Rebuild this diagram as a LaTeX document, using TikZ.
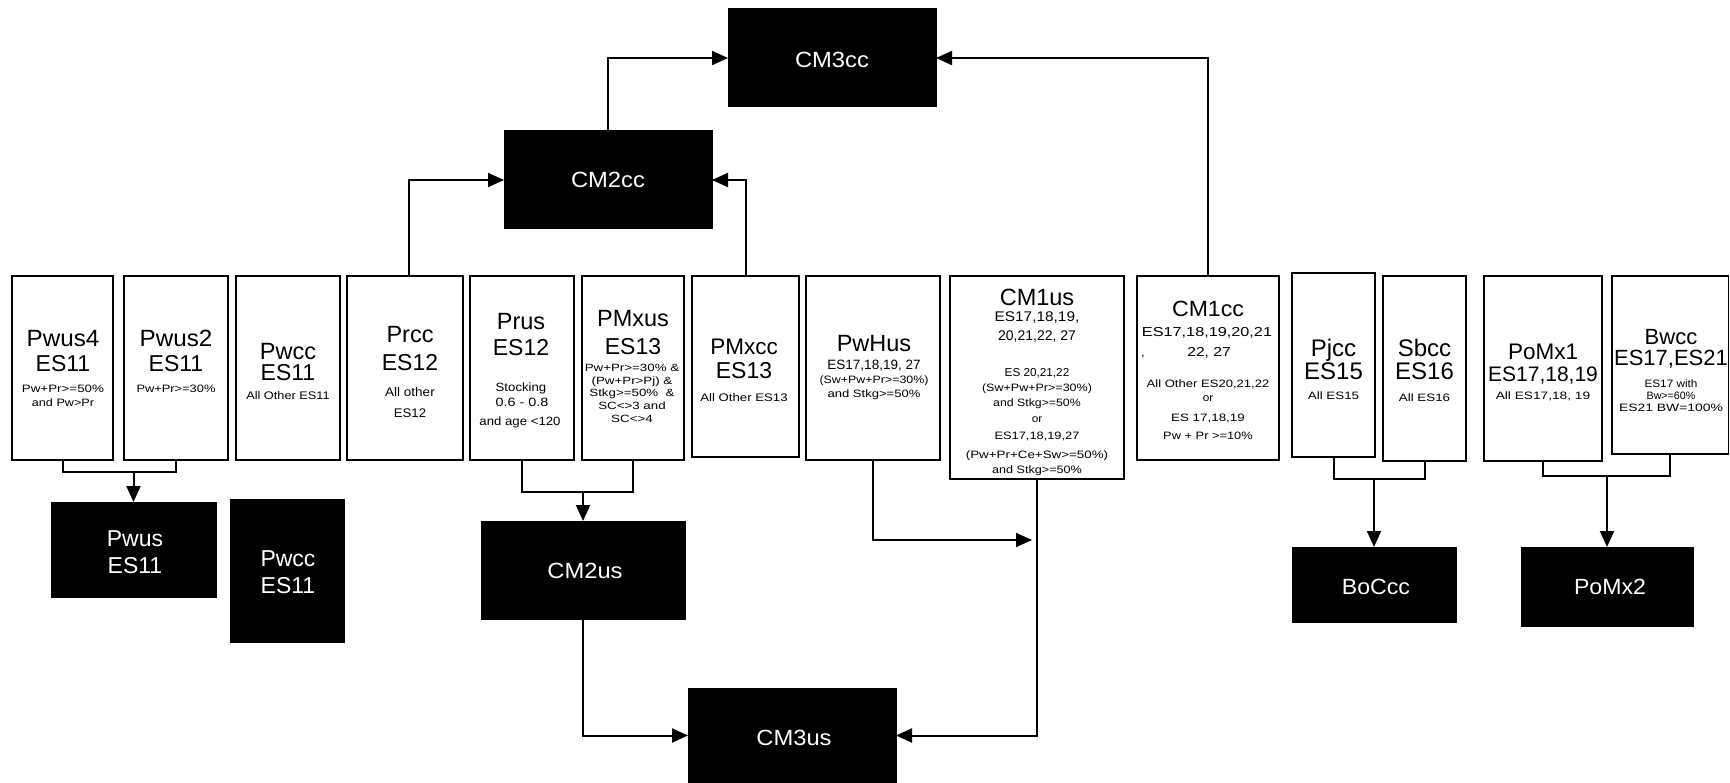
\documentclass[tikz,border=0pt]{standalone}
\usepackage{fontspec}
\setmainfont{Liberation Sans}
\usepackage{graphicx}
\usetikzlibrary{arrows.meta}

\newcommand{\Tline}[7][black]{\node[anchor=base,inner sep=0pt,outer sep=0pt,text=#1,font=\fontsize{#5}{#5}\selectfont] (#2) at (#3,#4) {\scalebox{#6}[1]{#7}};}
\newcommand{\mkbox}[6]{\node[#1,minimum width={#5-#3},minimum height={#6-#4}] (#2) at ({(#3+#5)/2},{(#4+#6)/2}) {};}

\begin{document}
\begin{tikzpicture}[x=1pt,y=-1pt,
  wbox/.style={draw=black,fill=white,line width=1.8pt,inner sep=0pt,outer sep=0pt},
  bbox/.style={draw=black,fill=black,line width=1pt,inner sep=0pt,outer sep=0pt},
  conn/.style={line width=2pt,draw=black},
  arr/.style={conn,-{Triangle[length=16pt,width=14pt]}}]

\fill[white] (0,0) rectangle (1730,783);
\useasboundingbox (0,0) rectangle (1730,783);

% ---------- white boxes ----------
\mkbox{wbox}{pwus4}{12}{276}{113}{460}
\mkbox{wbox}{pwus2}{124}{276}{228}{460}
\mkbox{wbox}{pwccw}{236}{276}{340}{460}
\mkbox{wbox}{prcc}{347}{276}{463}{460}
\mkbox{wbox}{prus}{470}{276}{574}{460}
\mkbox{wbox}{pmxus}{582}{276}{684}{460}
\mkbox{wbox}{pmxcc}{692}{276}{799}{457}
\mkbox{wbox}{pwhus}{806}{276}{940}{460}
\mkbox{wbox}{cm1us}{950}{276}{1124}{479}
\mkbox{wbox}{cm1cc}{1137}{276}{1279}{460}
\mkbox{wbox}{pjcc}{1292}{273}{1375}{457}
\mkbox{wbox}{sbcc}{1383}{276}{1466}{461}
\mkbox{wbox}{pomx1}{1484}{276}{1602}{461}
\mkbox{wbox}{bwcc}{1612}{276}{1728.5}{454}

% ---------- black boxes ----------
\mkbox{bbox}{cm3cc}{728}{9}{936}{107}
\mkbox{bbox}{cm2cc}{504}{131}{712}{229}
\mkbox{bbox}{pwus}{51}{502}{216}{597}
\mkbox{bbox}{pwccb}{230}{499}{344}{642}
\mkbox{bbox}{cm2us}{481}{521}{685}{619}
\mkbox{bbox}{cm3us}{688}{688}{896}{783}
\mkbox{bbox}{boccc}{1292}{547}{1456}{622}
\mkbox{bbox}{pomx2}{1521}{547}{1693}{626}

% ---------- texts in white boxes ----------
\Tline{pwus4a}{63}{347}{23.5}{1.03}{Pwus4}
\Tline{pwus4b}{63}{372}{23}{1}{ES11}
\Tline{pwus4c}{63}{393}{10.7}{1.25}{Pw+Pr>=50\%}
\Tline{pwus4d}{63}{407}{10.7}{1.18}{and Pw>Pr}

\Tline{pwus2a}{176}{347}{23.5}{1.03}{Pwus2}
\Tline{pwus2b}{176}{372}{23}{1}{ES11}
\Tline{pwus2c}{176}{393}{10.7}{1.2}{Pw+Pr>=30\%}

\Tline{pwcca}{288}{360}{23.5}{1}{Pwcc}
\Tline{pwccb2}{288}{381}{23}{1}{ES11}
\Tline{pwccc}{288}{399.5}{11}{1.16}{All Other ES11}

\Tline{prcca}{410}{343}{23.5}{1}{Prcc}
\Tline{prccb}{410}{371}{23}{1}{ES12}
\Tline{prccc}{410}{397}{12.5}{1.08}{All other}
\Tline{prccd}{410}{418}{12.5}{1.05}{ES12}

\Tline{prusa}{521}{330}{23.5}{1}{Prus}
\Tline{prusb}{521}{356}{23}{1}{ES12}
\Tline{prusc}{521}{392}{12}{1.1}{Stocking}
\Tline{prusd}{522}{407}{12}{1.2}{0.6 - 0.8}
\Tline{pruse}{520}{426}{12}{1.1}{and age <120}

\Tline{pmxusa}{633}{327}{23.5}{1}{PMxus}
\Tline{pmxusb}{633}{355}{23}{1}{ES13}
\Tline{pmxusc}{632}{372}{10.5}{1.27}{Pw+Pr>=30\% \&}
\Tline{pmxusd}{632}{384.5}{10.5}{1.27}{(Pw+Pr>Pj) \&}
\Tline{pmxuse}{632}{397}{10.5}{1.27}{Stkg>=50\%\ \ \&}
\Tline{pmxusf}{632}{410}{10.5}{1.27}{SC<>3 and}
\Tline{pmxusg}{632}{422.5}{10.5}{1.27}{SC<>4}

\Tline{pmxcca}{744}{355}{22.5}{1}{PMxcc}
\Tline{pmxccb}{744}{379}{23}{1}{ES13}
\Tline{pmxccc}{744}{402}{11}{1.2}{All Other ES13}

\Tline{pwhusa}{874}{352}{23.5}{1}{PwHus}
\Tline{pwhusb}{874}{370}{13.5}{1}{ES17,18,19, 27}
\Tline{pwhusc}{874}{384}{10.7}{1.16}{(Sw+Pw+Pr>=30\%)}
\Tline{pwhusd}{874}{398}{10.7}{1.22}{and Stkg>=50\%}

\Tline{cm1usa}{1037}{306}{23.5}{1}{CM1us}
\Tline{cm1usb}{1037}{322}{14}{1.1}{ES17,18,19,}
\Tline{cm1usc}{1037}{341}{14}{1}{20,21,22, 27}
\Tline{cm1usd}{1037}{377}{11.5}{1.02}{ES 20,21,22}
\Tline{cm1use}{1037}{392}{10.7}{1.17}{(Sw+Pw+Pr>=30\%)}
\Tline{cm1usf}{1037}{407}{10.7}{1.15}{and Stkg>=50\%}
\Tline{cm1usg}{1037}{423}{10.7}{1.1}{or}
\Tline{cm1ush}{1037}{439}{10.7}{1.2}{ES17,18,19,27}
\Tline{cm1usi}{1037}{458}{10.7}{1.25}{(Pw+Pr+Ce+Sw>=50\%)}
\Tline{cm1usj}{1037}{473}{10.7}{1.18}{and Stkg>=50\%}

\Tline{cm1cca}{1208}{317}{22}{1.05}{CM1cc}
\Tline{cm1ccb}{1207}{337}{13}{1.25}{ES17,18,19,20,21}
\Tline{cm1ccc}{1143}{357}{13}{1}{,}
\Tline{cm1ccd}{1209}{357}{13}{1.2}{22, 27}
\Tline{cm1cce}{1208}{387.5}{10.7}{1.22}{All Other ES20,21,22}
\Tline{cm1ccf}{1208}{402}{10.7}{1.1}{or}
\Tline{cm1ccg}{1208}{422}{10.7}{1.25}{ES 17,18,19}
\Tline{cm1cch}{1208}{439}{10.7}{1.2}{Pw + Pr >=10\%}

\Tline{pjcca}{1333.5}{357}{24}{1}{Pjcc}
\Tline{pjccb}{1333.5}{379.5}{24}{1}{ES15}
\Tline{pjccc}{1333.5}{399.5}{10.7}{1.25}{All ES15}

\Tline{sbcca}{1424.5}{357}{24}{1}{Sbcc}
\Tline{sbccb}{1424.5}{379.5}{24}{1}{ES16}
\Tline{sbccc}{1424.5}{401.5}{10.7}{1.25}{All ES16}

\Tline{pomx1a}{1543}{360}{22.5}{1}{PoMx1}
\Tline{pomx1b}{1543}{381.7}{21}{1}{ES17,18,19}
\Tline{pomx1c}{1543}{399.3}{10.7}{1.28}{All ES17,18, 19}

\Tline{bwcca}{1671}{345}{22}{1}{Bwcc}
\Tline{bwccb}{1671}{366}{22}{1}{ES17,ES21}
\Tline{bwccc}{1671}{388}{10.7}{1.1}{ES17 with}
\Tline{bwccd}{1671}{400}{10.7}{1}{Bw>=60\%}
\Tline{bwcce}{1671}{411.7}{10.7}{1.3}{ES21 BW=100\%}

% ---------- texts in black boxes ----------
\Tline[white]{cm3cct}{832}{68}{22}{1.08}{CM3cc}
\Tline[white]{cm2cct}{608}{188}{22}{1.08}{CM2cc}
\Tline[white]{pwusta}{135}{546}{23}{1}{Pwus}
\Tline[white]{pwustb}{135}{573}{23}{1}{ES11}
\Tline[white]{pwccta}{288}{566}{23}{1}{Pwcc}
\Tline[white]{pwcctb}{288}{593}{23}{1}{ES11}
\Tline[white]{cm2ust}{585}{578}{22}{1.08}{CM2us}
\Tline[white]{cm3ust}{794}{745}{22}{1.08}{CM3us}
\Tline[white]{boccct}{1376}{594}{22}{1.05}{BoCcc}
\Tline[white]{pomx2t}{1610}{594}{22}{1.05}{PoMx2}

% ---------- connectors ----------
\draw[conn] (pwus4.south) -- ++(0,12) -| (pwus2.south);
\draw[arr] ([yshift=30pt]pwus.north) -- (pwus.north);

\draw[conn] (prus.south) -- ++(0,32) -| (pmxus.south);
\draw[arr] ([yshift=29pt]cm2us.north) -- (cm2us.north);

\draw[arr] (cm2us.south) |- (cm3us.west);
\draw[arr] (cm1us.south) |- (cm3us.east);

\coordinate (pwend) at (1032,540);
\draw[arr] (pwhus.south) |- (pwend);

\draw[arr] ([xshift=4pt]prcc.north) |- (cm2cc.west);
\draw[arr] (pmxcc.north) |- (cm2cc.east);
\draw[arr] (cm2cc.north) |- (cm3cc.west);
\draw[arr] (cm1cc.north) |- (cm3cc.east);

\draw[conn] (pjcc.south) |- ([yshift=-18pt]sbcc.south) -- (sbcc.south);
\draw[arr] ([yshift=68pt]boccc.north) -- (boccc.north);

\draw[conn] (pomx1.south) |- ([yshift=-22pt]bwcc.south) -- (bwcc.south);
\draw[arr] ([yshift=71pt]pomx2.north) -- (pomx2.north);

\end{tikzpicture}
\end{document}
